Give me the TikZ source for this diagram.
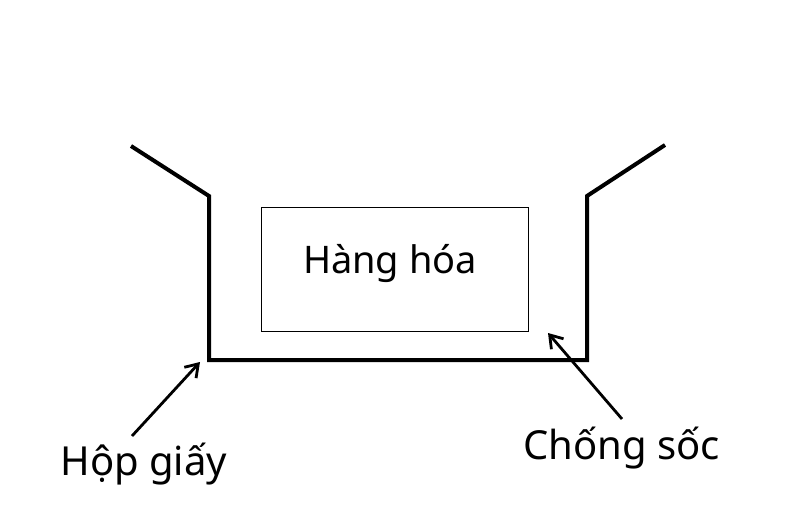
\documentclass[tikz,border=0pt]{standalone}
\usepackage{fontspec}
\setmainfont{Noto Sans}
\usetikzlibrary{arrows.meta}

\begin{document}
\begin{tikzpicture}[x=1pt,y=-1pt,font=\fontsize{38}{44}\selectfont,
  box/.style={line width=4pt,line join=miter},
  label/.style={font=\fontsize{40}{48}\selectfont,anchor=base west},
  pointer/.style={line width=2.8pt,-{Straight Barb[length=12pt,width=16pt,line width=2.8pt]}}]

\useasboundingbox (0,0) rectangle (794,513);

\coordinate (lflap) at (131,146);
\coordinate (ltop) at (209,196);
\coordinate (lbot) at (209,360);
\coordinate (rbot) at (587,360);
\coordinate (rtop) at (587,196);
\coordinate (rflap) at (665,145);

\draw[box] (lflap) -- (ltop) -- (lbot) -- (rbot) -- (rtop) -- (rflap);

\draw[line width=0.8pt] (261,207) rectangle (528,331);
\node (hang) at (390,264) {Hàng hóa};

\node[label] (hop) at (57,475) {Hộp giấy};
\node[label] (chong) at (520,459) {Chống sốc};

\coordinate (hoptail) at (132,436);
\coordinate (hoptip) at (200,362);
\coordinate (chongtail) at (622,419);
\coordinate (chongtip) at (548,333);

\draw[pointer] (hoptail) -- (hoptip);
\draw[pointer] (chongtail) -- (chongtip);

\end{tikzpicture}
\end{document}
